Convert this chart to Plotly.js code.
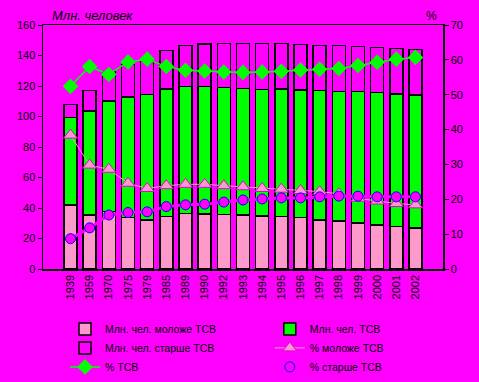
<!DOCTYPE html>
<html><head><meta charset="utf-8">
<script src="https://cdn.plot.ly/plotly-3.0.1.min.js"></script>
<style>html,body{margin:0;padding:0;background:#FF00FF;}#chart{width:479px;height:382px;}</style>
</head><body><div id="chart"></div>
<script>
const years = ['1939','1959','1970','1975','1979','1985','1989','1990','1992','1993','1994','1995','1996','1997','1998','1999','2000','2001','2002'];
// millions of people
const youngMln = [42,35.4,37.6,33.7,32.1,34.5,36.5,36,35.6,35.3,34.8,34.3,33.7,32.1,31.5,30.2,28.9,28,26.9];
const workMln  = [57.2,68.2,72.6,79.1,82.2,83.5,83.3,83.8,83.5,83.2,83,83.7,83.7,84.8,84.8,86.1,86.7,86.8,87.2];
const oldMln   = [8.8,13.6,19.2,21.4,22.5,25.4,26.9,27.7,28.9,29.5,30.2,30,29.9,29.8,30.4,29.7,29.7,29.9,29.9];
// percentages
const youngPct = [38.4,29.8,28.6,24.6,23.1,23.9,24.3,24.3,23.9,23.6,23.1,22.9,22.5,22.2,21.6,20.3,19.5,18.8,18.4];
const workPct  = [52.4,58.1,55.8,59.4,60.2,58.1,57,56.8,56.5,56.4,56.5,56.7,57.1,57.3,57.5,58.4,59.3,60.2,60.7];
const oldPct   = [8.7,11.8,15.5,16.2,16.4,17.9,18.4,18.6,19.2,19.8,20.1,20.4,20.4,20.7,20.9,20.9,20.7,20.7,20.7];

const fnt = {family:'Liberation Sans, Arial, sans-serif', size:11, color:'#000'};
const lfnt = {family:'Liberation Sans, Arial, sans-serif', size:10.5, color:'#000'};
const traces = [
  {type:'bar', x:years, y:youngMln, name:'Млн. чел. моложе ТСВ', legend:'legend', marker:{color:'#FF99CC', line:{color:'#000', width:1.5}}},
  {type:'bar', x:years, y:workMln, name:'Млн. чел. ТСВ', legend:'legend2', marker:{color:'#00FF00', line:{color:'#000', width:1.5}}},
  {type:'bar', x:years, y:oldMln, name:'Млн. чел. старше ТСВ', legend:'legend', marker:{color:'#FF00FF', line:{color:'#000', width:1.5}}},
  {type:'scatter', mode:'lines+markers', x:years, y:youngPct, yaxis:'y2', name:'% моложе ТСВ', legend:'legend2',
   line:{color:'#FF99CC', width:1}, marker:{symbol:'triangle-up', size:12, color:'#FF99CC', line:{color:'#DD00DD', width:1}}},
  {type:'scatter', mode:'lines+markers', x:years, y:workPct, yaxis:'y2', name:'% ТСВ', legend:'legend',
   line:{color:'#00FF00', width:1.5}, marker:{symbol:'diamond', size:12, color:'#00FF00'}},
  {type:'scatter', mode:'lines+markers', x:years, y:oldPct, yaxis:'y2', name:'% старше ТСВ', legend:'legend2',
   line:{color:'#FF00FF', width:3}, marker:{symbol:'circle', size:10, color:'#FF00FF', line:{color:'#0000FF', width:1}}}
];
const legBase = {orientation:'v', traceorder:'normal', xanchor:'left', yanchor:'top', y:-0.186,
                 bgcolor:'rgba(0,0,0,0)', font:lfnt, itemwidth:30};
const layout = {
  width:479, height:382,
  paper_bgcolor:'#FF00FF', plot_bgcolor:'#FF00FF',
  margin:{l:43, r:36, t:25, b:113, autoexpand:false},
  barmode:'stack', bargap:0.32,
  font:fnt,
  showlegend:true,
  legend:Object.assign({}, legBase, {x:0.055}),
  legend2:Object.assign({}, legBase, {x:0.567}),
  xaxis:{type:'category', tickangle:-90, showline:true, linecolor:'#000', linewidth:1.5, mirror:true,
         ticks:'', tickfont:fnt, showgrid:false},
  yaxis:{range:[0,160], dtick:20, showline:true, linecolor:'#000', linewidth:1.5, ticks:'outside', ticklen:4,
         tickcolor:'#000', showgrid:false, zeroline:false, tickfont:fnt},
  yaxis2:{range:[0,70], dtick:10, overlaying:'y', side:'right', showline:true, linecolor:'#000', linewidth:1.5,
          ticks:'outside', ticklen:4, tickcolor:'#000', showgrid:false, zeroline:false, tickfont:fnt},
  annotations:[
    {text:'<i>Млн. человек</i>', xref:'paper', yref:'paper', x:0.018, y:1.0, xanchor:'left', yanchor:'bottom', showarrow:false, font:{family:fnt.family, size:13, color:'#000'}},
    {text:'%', xref:'paper', yref:'paper', x:0.953, y:1.0, xanchor:'left', yanchor:'bottom', showarrow:false, font:{family:fnt.family, size:12, color:'#000'}}
  ]
};
Plotly.newPlot('chart', traces, layout, {displayModeBar:false, staticPlot:true});
</script></body></html>
